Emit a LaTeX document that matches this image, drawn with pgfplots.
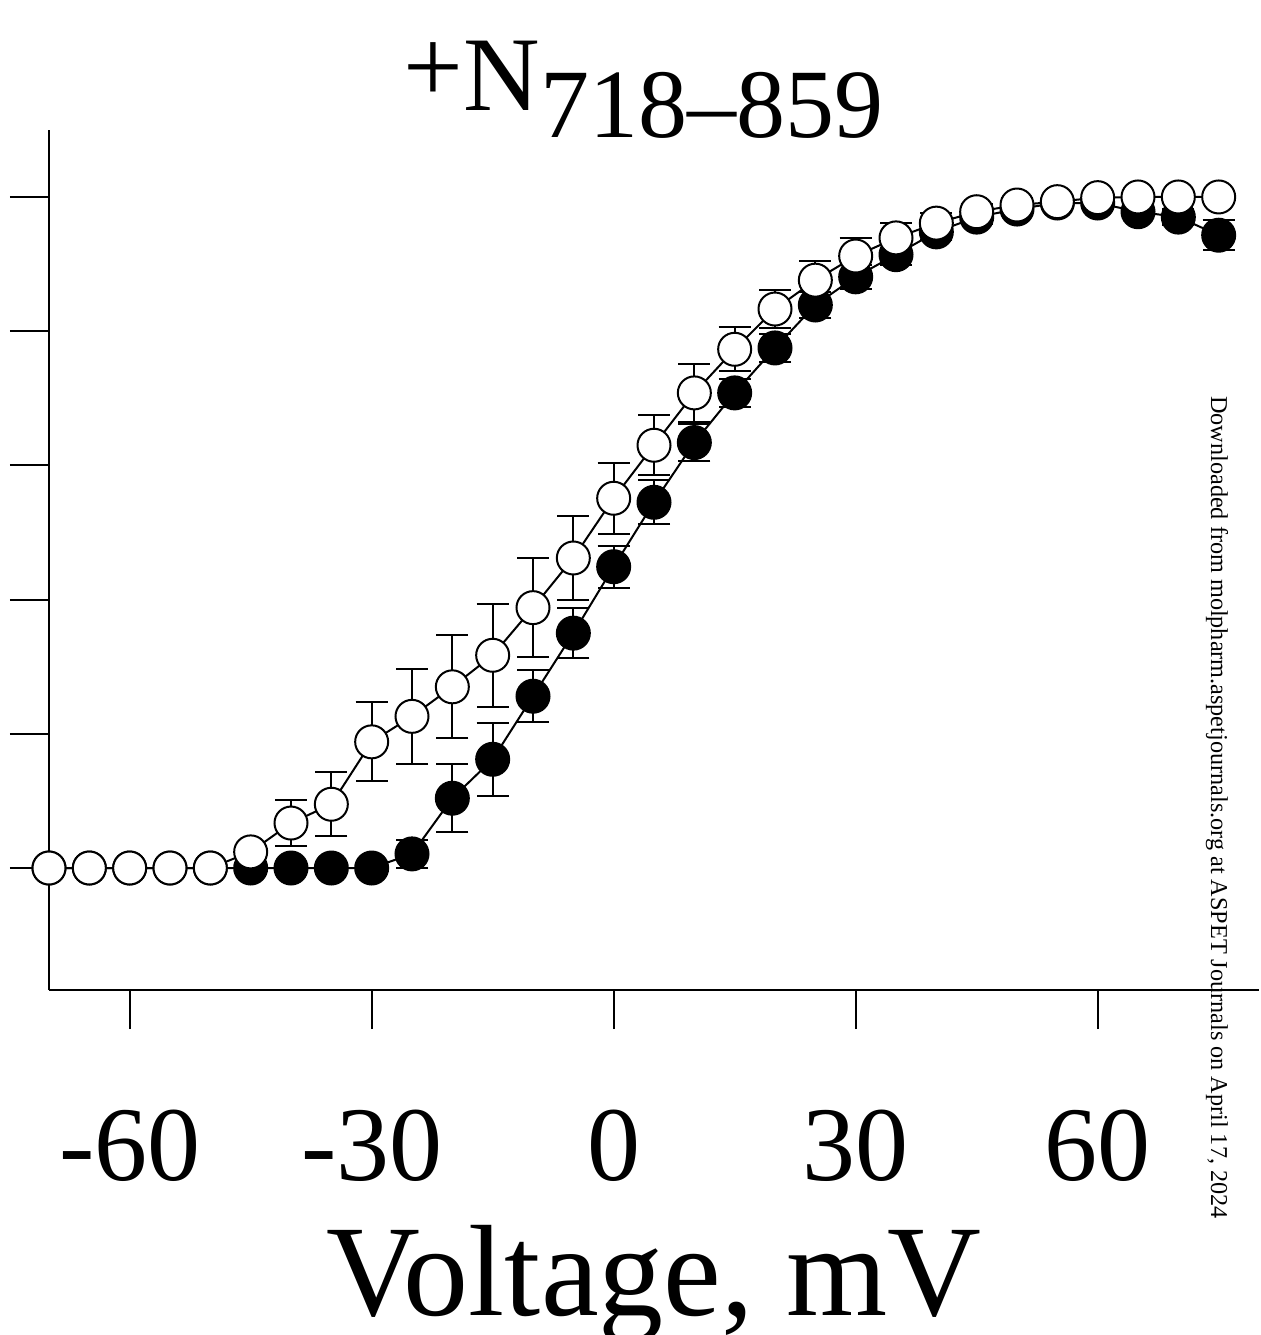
\documentclass[border=0pt]{standalone}
\usepackage{fontspec}
\setmainfont{Liberation Serif}
\usepackage{pgfplots}
\pgfplotsset{compat=1.18}
\usepackage{pgfplotstable}

\pgfplotstableread{
x y e
-70 0 0
-65 0 0
-60 0 0
-55 0 0
-50 0 0
-45 0.024 0
-40 0.067 0.034
-35 0.095 0.048
-30 0.188 0.059
-25 0.226 0.071
-20 0.270 0.077
-15 0.317 0.077
-10 0.388 0.074
-5 0.462 0.062
0 0.551 0.053
5 0.630 0.045
10 0.708 0.043
15 0.773 0.033
20 0.833 0.028
25 0.876 0.028
30 0.912 0.027
35 0.939 0.022
40 0.961 0.015
45 0.978 0.012
50 0.988 0.010
55 0.993 0.008
60 0.999 0.006
65 1.000 0.005
70 1.000 0.005
75 1.000 0.005
}\opendata

\pgfplotstableread{
x y e
-70 0 0
-65 0 0
-60 0 0
-55 0 0
-50 0 0
-45 0 0
-40 0 0
-35 0 0
-30 0 0
-25 0.021 0.021
-20 0.104 0.051
-15 0.162 0.054
-10 0.256 0.039
-5 0.350 0.037
0 0.449 0.031
5 0.545 0.033
10 0.634 0.028
15 0.708 0.021
20 0.775 0.021
25 0.839 0.020
30 0.881 0.018
35 0.914 0.015
40 0.948 0.012
45 0.970 0.010
50 0.982 0.008
55 0.991 0.008
60 0.991 0.008
65 0.978 0.010
70 0.970 0.012
75 0.943 0.022
}\filleddata

\begin{document}
\begin{tikzpicture}
\useasboundingbox (0,0) rectangle (630pt,667.5pt);
\begin{axis}[
  at={(24.5pt,172.5pt)}, anchor=south west,
  scale only axis, width=605pt, height=430pt,
  xmin=-70, xmax=80, ymin=-0.1818, ymax=1.0998,
  axis x line*=bottom, axis y line*=left,
  axis line style={line width=1pt, -},
  tick align=outside,
  major tick length=19.5pt,
  tick style={line width=1pt, black},
  xtick={-60,-30,0,30,60},
  xticklabels={-60,-30,0,30,60},
  ytick={0,0.2,0.4,0.6,0.8,1.0},
  yticklabels={},
  xticklabel style={font=\fontsize{53pt}{53pt}\selectfont, anchor=base, yshift=-75.5pt},
  xlabel={Voltage, mV},
  xlabel style={font=\fontsize{65pt}{65pt}\selectfont, at={(rel axis cs:0.5,0)}, anchor=base, yshift=-162.5pt},
  title={{\fontsize{53pt}{53pt}\selectfont\raisebox{4pt}{+}N}{\fontsize{49pt}{49pt}\selectfont\raisebox{-13.5pt}{718–859}}},
  title style={at={(rel axis cs:0.4913,1)}, anchor=base, yshift=3.5pt, inner sep=0pt},
  clip=false,
]
\addplot[black, line width=1pt, mark=*, mark size=8.25pt,
  mark options={fill=black, draw=black, line width=1pt},
  error bars/.cd, y dir=both, y explicit,
  error bar style={line width=1pt, black},
  error mark options={line width=1pt, mark size=8pt, rotate=90}]
  table[x=x, y=y, y error=e] {\filleddata};
\addplot[black, line width=1pt, mark=*, mark size=8.25pt,
  mark options={fill=white, draw=black, line width=1pt},
  error bars/.cd, y dir=both, y explicit,
  error bar style={line width=1pt, black},
  error mark options={line width=1pt, mark size=8pt, rotate=90}]
  table[x=x, y=y, y error=e] {\opendata};
\end{axis}
\node[rotate=-90, anchor=base, inner sep=0pt, font=\fontsize{12.1pt}{12.1pt}\selectfont]
  at (605.5pt,263.75pt) {Downloaded from molpharm.aspetjournals.org at ASPET Journals on April 17, 2024};
\end{tikzpicture}
\end{document}
